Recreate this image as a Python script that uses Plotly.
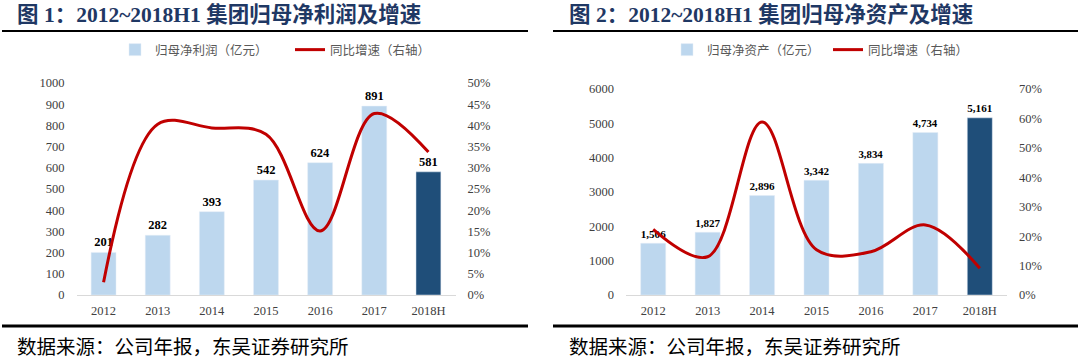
import plotly.graph_objects as go

years = ["2012", "2013", "2014", "2015", "2016", "2017", "2018H"]
profit = [201, 282, 393, 542, 624, 891, 581]
profit_growth = [0.03, 0.403, 0.394, 0.379, 0.151, 0.428, 0.337]
equity = [1506, 1827, 2896, 3342, 3834, 4734, 5161]
equity_growth = [0.223, 0.13, 0.588, 0.154, 0.147, 0.238, 0.091]

title1 = "图 1：2012~2018H1 集团归母净利润及增速"
title2 = "图 2：2012~2018H1 集团归母净资产及增速"
source = "数据来源：公司年报，东吴证券研究所"
bar1_name = "归母净利润（亿元）"
bar2_name = "归母净资产（亿元）"
line_name = "同比增速（右轴）"

LIGHT = "#BDD7EE"
DARK = "#1F4E79"
RED = "#C00000"
bar_colors = [LIGHT] * 6 + [DARK]

SERIF = "Liberation Serif, Times New Roman, serif"
CJK = "Noto Sans CJK SC"
TICK_FONT = dict(family=SERIF, size=12.5, color="#404040")

fig = go.Figure()

fig.add_trace(go.Bar(x=years, y=profit, name=bar1_name, marker_color=bar_colors,
                     texttemplate="%{y}", textposition="outside",
                     textfont=dict(family=SERIF, size=12.5, color="#000000", weight="bold"),
                     cliponaxis=False, xaxis="x", yaxis="y", legend="legend"))
fig.add_trace(go.Scatter(x=years, y=profit_growth, name=line_name, mode="lines",
                         line=dict(color=RED, width=3, shape="spline", smoothing=1),
                         xaxis="x", yaxis="y2", legend="legend"))
fig.add_trace(go.Bar(x=years, y=equity, name=bar2_name, marker_color=bar_colors,
                     texttemplate="%{y:,}", textposition="outside",
                     textfont=dict(family=SERIF, size=12.5, color="#000000", weight="bold"),
                     cliponaxis=False, xaxis="x2", yaxis="y3", legend="legend2"))
fig.add_trace(go.Scatter(x=years, y=equity_growth, name=line_name, mode="lines",
                         line=dict(color=RED, width=3, shape="spline", smoothing=1),
                         xaxis="x2", yaxis="y4", legend="legend2"))

W, H = 1080, 360
def px(v):
    return v / W
def py(v):
    return 1 - v / H

xcommon = dict(type="category", showgrid=False, showline=True, linecolor="#D9D9D9",
               linewidth=1, ticks="", tickfont=TICK_FONT, zeroline=False,
               ticklabelstandoff=4, fixedrange=True, automargin=False)
ycommon = dict(showgrid=False, showline=False, zeroline=False, ticks="",
               tickfont=TICK_FONT, ticklabelstandoff=11, fixedrange=True, automargin=False)

legend_common = dict(orientation="h", yanchor="middle", xanchor="center",
                     font=dict(family=CJK, size=12.5, color="#595959"),
                     bgcolor="rgba(0,0,0,0)", itemwidth=30)

fig.update_layout(
    width=W, height=H,
    margin=dict(l=0, r=0, t=0, b=0),
    paper_bgcolor="white", plot_bgcolor="white",
    bargap=0.54,
    xaxis=dict(domain=[px(76.5), px(455.5)], anchor="y", **xcommon),
    yaxis=dict(domain=[py(295), py(83)], range=[0, 1000], dtick=100, anchor="x", **ycommon),
    yaxis2=dict(range=[0, 0.5], dtick=0.05, tickformat=".0%", overlaying="y", side="right",
                anchor="x", **ycommon),
    xaxis2=dict(domain=[px(626), px(1007)], anchor="y3", **xcommon),
    yaxis3=dict(domain=[py(295), py(89)], range=[0, 6000], dtick=1000, anchor="x2", **ycommon),
    yaxis4=dict(range=[0, 0.7], dtick=0.1, tickformat=".0%", overlaying="y3", side="right",
                anchor="x2", **ycommon),
    legend=dict(x=px(290), y=py(50), entrywidth=130, **legend_common),
    legend2=dict(x=px(828), y=py(50), entrywidth=116, **legend_common),
)

title_font = dict(family=SERIF + ", " + CJK, size=21.5, color="#1F3864", weight="bold")
for t, x0 in [(title1, 15), (title2, 567)]:
    fig.add_annotation(text=t, xref="paper", yref="paper", x=px(x0), y=py(15),
                       xanchor="left", yanchor="middle", showarrow=False, font=title_font)
for x0 in [15, 567]:
    fig.add_annotation(text=source, xref="paper", yref="paper", x=px(x0), y=py(345),
                       xanchor="left", yanchor="middle", showarrow=False,
                       font=dict(family=CJK, size=19.5, color="#000000"))

for (a, b) in [(2, 528), (553, 1078)]:
    fig.add_shape(type="line", xref="paper", yref="paper", x0=px(a), x1=px(b),
                  y0=py(31), y1=py(31), line=dict(color="#000000", width=2))
    fig.add_shape(type="line", xref="paper", yref="paper", x0=px(a), x1=px(b),
                  y0=py(326), y1=py(326), line=dict(color="#000000", width=3))

fig.write_html("out.html", config={"displayModeBar": False},
               post_script="document.body.style.margin='0';document.body.style.overflow='hidden';")
